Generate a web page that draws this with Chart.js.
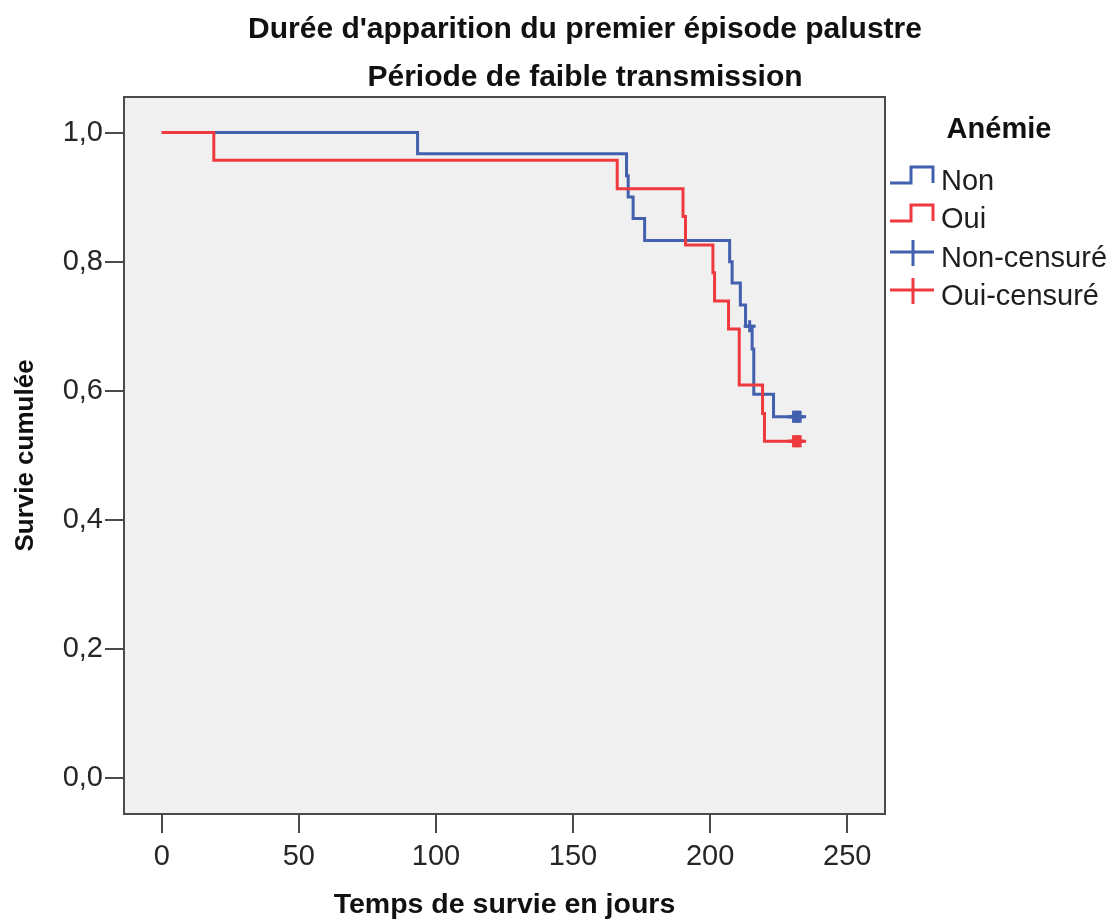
<!DOCTYPE html>
<html lang="fr">
<head>
<meta charset="UTF-8">
<title>Durée d'apparition du premier épisode palustre</title>
<script src="https://cdn.jsdelivr.net/npm/chart.js"></script>
<style>
  html, body { margin: 0; padding: 0; background: #fff; }
</style>
</head>
<body>
<canvas id="km" width="1115" height="922"></canvas>
<script>
var titreLignes = ["Durée d'apparition du premier épisode palustre", "Période de faible transmission"];
var titreX = "Temps de survie en jours";
var titreY = "Survie cumulée";
var legendeTitre = "Anémie";
var legendeNoms = ["Non", "Oui", "Non-censuré", "Oui-censuré"];

var xTicks = [0, 50, 100, 150, 200, 250];
var yTicks = [0, 0.2, 0.4, 0.6, 0.8, 1.0];

// groupe Non (anémie)
var nonJours  = [0, 93.3, 169.5, 170.1, 171.9, 176.1, 207.1, 208.0, 211.0, 212.9, 215.3, 215.9, 223.1, 233.4];
var nonSurvie = [1, 0.967, 0.933, 0.900, 0.867, 0.833, 0.800, 0.767, 0.733, 0.700, 0.665, 0.595, 0.560, 0.560];
var nonCensJours  = [214.4, 230.4, 231.0, 231.6, 232.2, 232.8];
var nonCensSurvie = [0.700, 0.560, 0.560, 0.560, 0.560, 0.560];

// groupe Oui
var ouiJours  = [0, 19.0, 166.1, 190.1, 191.0, 201.0, 201.6, 206.7, 210.6, 219.1, 219.8, 233.4];
var ouiSurvie = [1, 0.957, 0.913, 0.870, 0.826, 0.783, 0.739, 0.696, 0.609, 0.565, 0.522, 0.522];
var ouiCensJours  = [230.4, 231.0, 231.6, 232.2, 232.8];
var ouiCensSurvie = [0.522, 0.522, 0.522, 0.522, 0.522];

var bleu = '#4260ae';
var rouge = '#ee3a3e';

function pts(xs, ys) {
    return xs.map(function (x, i) { return { x: x, y: ys[i] }; });
}

Chart.defaults.font.family = "'Liberation Sans', Arial, sans-serif";
Chart.defaults.color = '#262626';

var decor = {
    id: 'decor',
    beforeDraw: function (chart) {
        var ctx = chart.ctx, a = chart.chartArea;
        ctx.save();
        ctx.fillStyle = '#fff';
        ctx.fillRect(0, 0, chart.width, chart.height);
        ctx.fillStyle = '#f0f0f0';
        ctx.fillRect(a.left, a.top, a.right - a.left, a.bottom - a.top);
        ctx.restore();
    },
    afterDraw: function (chart) {
        var ctx = chart.ctx, a = chart.chartArea;
        ctx.save();
        // cadre
        ctx.strokeStyle = '#4a4a4a';
        ctx.lineWidth = 2;
        ctx.strokeRect(a.left, a.top, a.right - a.left, a.bottom - a.top);

        // titre
        ctx.fillStyle = '#111';
        ctx.textAlign = 'center';
        ctx.textBaseline = 'middle';
        ctx.font = "bold 30px 'Liberation Sans', Arial, sans-serif";
        ctx.fillText(titreLignes[0], 585, 30);
        ctx.fillText(titreLignes[1], 585, 78);

        // légende
        ctx.font = "bold 29px 'Liberation Sans', Arial, sans-serif";
        ctx.fillText(legendeTitre, 999, 130);
        ctx.textAlign = 'left';
        ctx.font = "29px 'Liberation Sans', Arial, sans-serif";
        var rows = [180, 218, 257, 295];
        var cols = [bleu, rouge, bleu, rouge];
        ctx.lineWidth = 3;
        rows.forEach(function (y, i) {
            ctx.fillStyle = '#1e1e1e';
            ctx.fillText(legendeNoms[i], 941, y + 2);
            ctx.strokeStyle = cols[i];
            ctx.beginPath();
            if (i < 2) {
                ctx.moveTo(890, y + 3);
                ctx.lineTo(911, y + 3);
                ctx.lineTo(911, y - 13);
                ctx.lineTo(933, y - 13);
                ctx.lineTo(933, y + 3);
            } else {
                ctx.moveTo(890, y - 5);
                ctx.lineTo(934, y - 5);
                ctx.moveTo(913, y - 17);
                ctx.lineTo(913, y + 9);
            }
            ctx.stroke();
        });
        ctx.restore();
    }
};

var axeCommun = {
    grid: { drawOnChartArea: false, drawTicks: true, tickLength: 19, color: '#4a4a4a', lineWidth: 2 },
    border: { display: false }
};

new Chart(document.getElementById('km'), {
    type: 'scatter',
    data: {
        datasets: [
            { label: legendeNoms[1], data: pts(ouiJours, ouiSurvie), showLine: true, stepped: true,
              borderColor: rouge, borderWidth: 3, pointRadius: 0, fill: false },
            { label: legendeNoms[0], data: pts(nonJours, nonSurvie), showLine: true, stepped: true,
              borderColor: bleu, borderWidth: 3, pointRadius: 0, fill: false },
            { label: legendeNoms[3], data: pts(ouiCensJours, ouiCensSurvie), showLine: false,
              pointStyle: 'cross', pointRadius: 6, borderColor: rouge, borderWidth: 3 },
            { label: legendeNoms[2], data: pts(nonCensJours, nonCensSurvie), showLine: false,
              pointStyle: 'cross', pointRadius: 6, borderColor: bleu, borderWidth: 3 }
        ]
    },
    options: {
        responsive: false,
        animation: false,
        layout: { padding: { top: 97, right: 230, left: 0, bottom: 0 } },
        plugins: { legend: { display: false }, title: { display: false }, tooltip: { enabled: false } },
        scales: {
            x: Object.assign({}, axeCommun, {
                type: 'linear', min: -13.75, max: 263.75,
                afterBuildTicks: function (s) { s.ticks = xTicks.map(function (v) { return { value: v }; }); },
                afterFit: function (s) { s.height = 108; },
                ticks: { font: { size: 29 }, padding: 7, autoSkip: false, maxRotation: 0 },
                title: { display: true, text: titreX, color: '#111',
                         font: { size: 28.5, weight: 'bold' }, padding: { top: 0, bottom: 0 } }
            }),
            y: Object.assign({}, axeCommun, {
                type: 'linear', min: -0.055, max: 1.055,
                afterBuildTicks: function (s) { s.ticks = yTicks.map(function (v) { return { value: v }; }); },
                afterFit: function (s) { s.width = 124; },
                ticks: { font: { size: 29 }, padding: 2,
                         callback: function (v) { return v.toFixed(1).replace('.', ','); } },
                title: { display: true, text: titreY, color: '#111',
                         font: { size: 26, weight: 'bold' }, padding: { top: 10, bottom: 0 } }
            })
        }
    },
    plugins: [decor]
});
</script>
</body>
</html>
